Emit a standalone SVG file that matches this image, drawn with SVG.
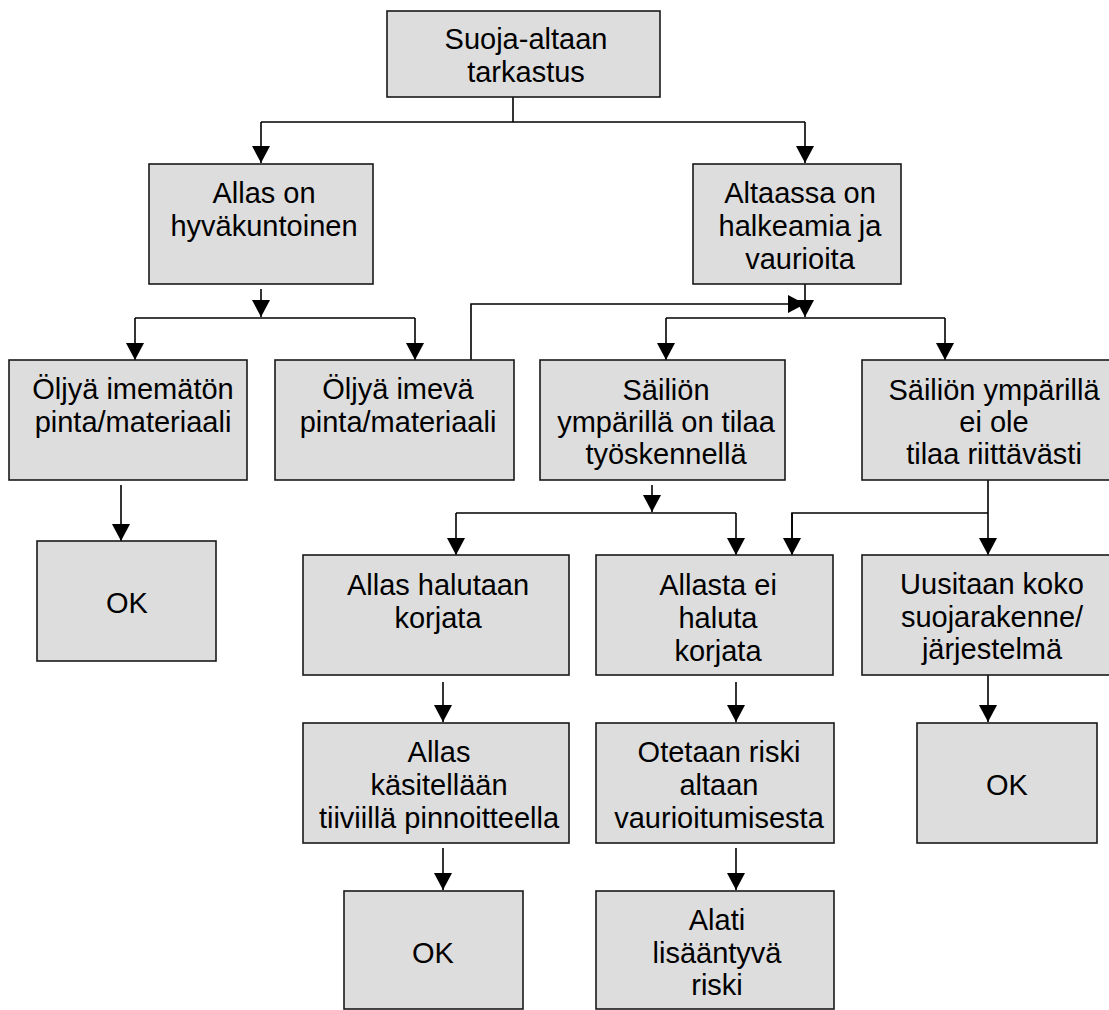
<svg xmlns="http://www.w3.org/2000/svg" width="1109" height="1010" viewBox="0 0 1109 1010">
<style>
.box{fill:#dddddd;stroke:#1a1a1a;stroke-width:1.6}
.lbl{font-family:"Liberation Sans",Arial,sans-serif;font-size:29px;fill:#000;text-anchor:middle}
.ln{fill:none;stroke:#000;stroke-width:1.6}
</style>
<defs>
<marker id="ah" markerUnits="userSpaceOnUse" markerWidth="17" markerHeight="18" refX="17" refY="9" orient="auto">
<path d="M0,0 L17,9 L0,18 z" fill="#000"/>
</marker>
</defs>
<rect width="1109" height="1010" fill="#fff"/>
<g id="connectors">
<polyline class="ln" points="513,96 513,122"/>
<polyline class="ln" points="261,122 805,122"/>
<polyline class="ln" points="261,122 261,163" marker-end="url(#ah)"/>
<polyline class="ln" points="805,122 805,163" marker-end="url(#ah)"/>
<polyline class="ln" points="261,289 261,317" marker-end="url(#ah)"/>
<polyline class="ln" points="135,318 415,318"/>
<polyline class="ln" points="135,318 135,360" marker-end="url(#ah)"/>
<polyline class="ln" points="415,318 415,360" marker-end="url(#ah)"/>
<polyline class="ln" points="805,275 805,317" marker-end="url(#ah)"/>
<polyline class="ln" points="471,360 471,304 805,304" marker-end="url(#ah)"/>
<polyline class="ln" points="666,318 945,318"/>
<polyline class="ln" points="666,318 666,360" marker-end="url(#ah)"/>
<polyline class="ln" points="945,318 945,360" marker-end="url(#ah)"/>
<polyline class="ln" points="121,485 121,541" marker-end="url(#ah)"/>
<polyline class="ln" points="652,485 652,512" marker-end="url(#ah)"/>
<polyline class="ln" points="456,513 736,513"/>
<polyline class="ln" points="456,513 456,555" marker-end="url(#ah)"/>
<polyline class="ln" points="736,513 736,555" marker-end="url(#ah)"/>
<polyline class="ln" points="988,472 988,555" marker-end="url(#ah)"/>
<polyline class="ln" points="792,555 792,513 988,513"/>
<polyline class="ln" points="792,513 792,555" marker-end="url(#ah)"/>
<polyline class="ln" points="443,682 443,722" marker-end="url(#ah)"/>
<polyline class="ln" points="736,682 736,722" marker-end="url(#ah)"/>
<polyline class="ln" points="988,667 988,722" marker-end="url(#ah)"/>
<polyline class="ln" points="443,848 443,890" marker-end="url(#ah)"/>
<polyline class="ln" points="736,848 736,890" marker-end="url(#ah)"/>
</g>
<g id="n-top"><rect class="box" x="387" y="11" width="273" height="86"/>
<text class="lbl" x="526" y="49">Suoja-altaan<tspan x="526" y="82">tarkastus</tspan></text></g>
<g id="n-hyva"><rect class="box" x="149" y="164" width="224" height="120"/>
<text class="lbl" x="264" y="203">Allas on<tspan x="264" y="236">hyväkuntoinen</tspan></text></g>
<g id="n-halkeamia"><rect class="box" x="693" y="164" width="208" height="120"/>
<text class="lbl" x="800" y="203">Altaassa on<tspan x="800" y="236">halkeamia ja</tspan><tspan x="800" y="269">vaurioita</tspan></text></g>
<g id="n-imematon"><rect class="box" x="9" y="360" width="238" height="120"/>
<text class="lbl" x="133" y="399">Öljyä imemätön<tspan x="133" y="432">pinta/materiaali</tspan></text></g>
<g id="n-imeva"><rect class="box" x="275" y="360" width="239" height="120"/>
<text class="lbl" x="398" y="399">Öljyä imevä<tspan x="398" y="432">pinta/materiaali</tspan></text></g>
<g id="n-tilaa"><rect class="box" x="540" y="360" width="245" height="120"/>
<text class="lbl" x="666" y="400">Säiliön<tspan x="666" y="432">ympärillä on tilaa</tspan><tspan x="666" y="464">työskennellä</tspan></text></g>
<g id="n-eitilaa"><rect class="box" x="862" y="360" width="250" height="120"/>
<text class="lbl" x="994" y="400">Säiliön ympärillä<tspan x="994" y="432">ei ole</tspan><tspan x="994" y="464">tilaa riittävästi</tspan></text></g>
<g id="n-ok1"><rect class="box" x="37" y="541" width="179" height="120"/>
<text class="lbl" x="127" y="613">OK</text></g>
<g id="n-halutaan"><rect class="box" x="303" y="555" width="266" height="120"/>
<text class="lbl" x="438" y="595">Allas halutaan<tspan x="438" y="628">korjata</tspan></text></g>
<g id="n-eihaluta"><rect class="box" x="596" y="555" width="237" height="120"/>
<text class="lbl" x="718" y="595">Allasta ei<tspan x="718" y="628">haluta</tspan><tspan x="718" y="661">korjata</tspan></text></g>
<g id="n-uusitaan"><rect class="box" x="862" y="555" width="250" height="120"/>
<text class="lbl" x="992" y="594">Uusitaan koko<tspan x="992" y="627">suojarakenne/</tspan><tspan x="992" y="659">järjestelmä</tspan></text></g>
<g id="n-kasitellaan"><rect class="box" x="303" y="723" width="266" height="120"/>
<text class="lbl" x="439" y="762">Allas<tspan x="439" y="795">käsitellään</tspan><tspan x="439" y="828">tiiviillä pinnoitteella</tspan></text></g>
<g id="n-riski"><rect class="box" x="596" y="723" width="238" height="120"/>
<text class="lbl" x="719" y="762">Otetaan riski<tspan x="719" y="795">altaan</tspan><tspan x="719" y="828">vaurioitumisesta</tspan></text></g>
<g id="n-ok3"><rect class="box" x="917" y="723" width="180" height="120"/>
<text class="lbl" x="1007" y="795">OK</text></g>
<g id="n-ok2"><rect class="box" x="344" y="891" width="179" height="118"/>
<text class="lbl" x="433" y="963">OK</text></g>
<g id="n-alati"><rect class="box" x="596" y="891" width="238" height="118"/>
<text class="lbl" x="717" y="930">Alati<tspan x="717" y="963">lisääntyvä</tspan><tspan x="717" y="995">riski</tspan></text></g>
</svg>
